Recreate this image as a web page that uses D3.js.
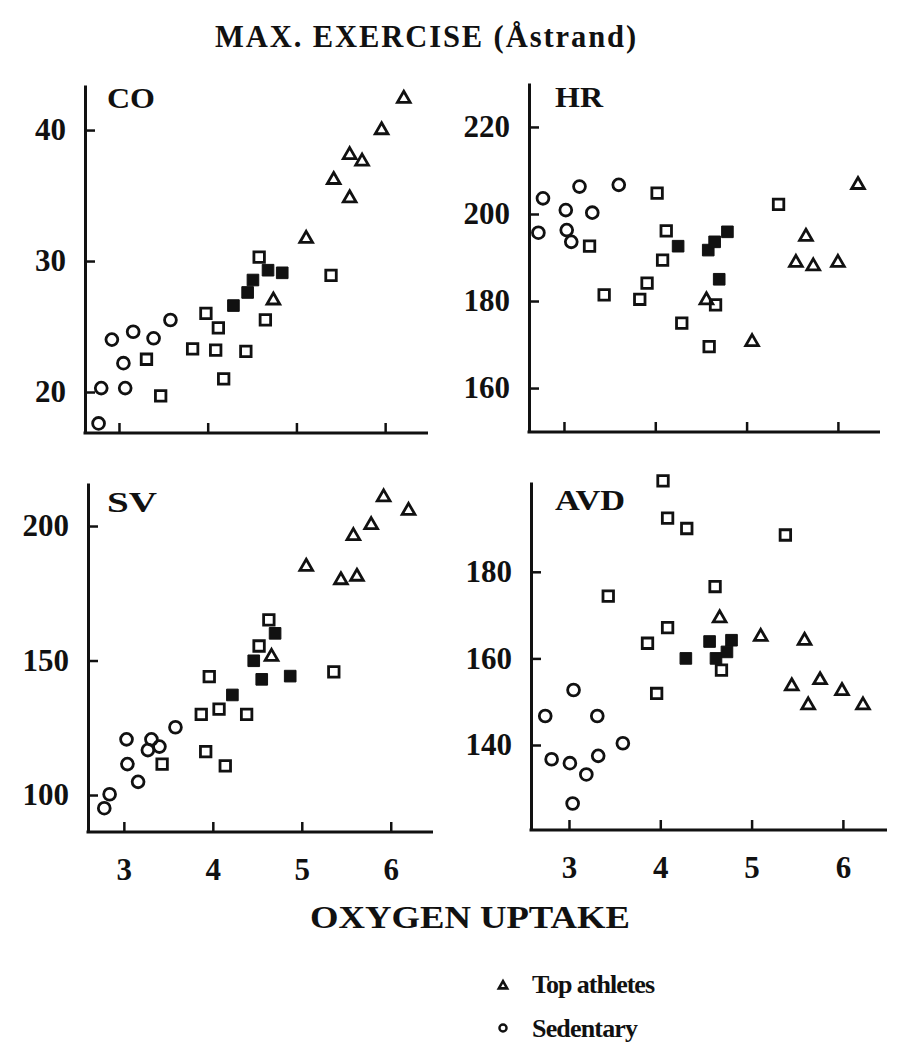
<!DOCTYPE html>
<html>
<head>
<meta charset="utf-8">
<script src="https://cdn.jsdelivr.net/npm/d3@7"></script>
<style>
  body { margin: 0; background: #fff; }
  svg { display: block; }
  text { font-family: "Liberation Serif", "DejaVu Serif", serif; font-weight: bold; fill: #111; }
  .axis path, .axis line { stroke: #111; }
  .axis text { font-size: 31px; font-family: "Liberation Serif", serif; font-weight: bold; fill: #111; }
</style>
</head>
<body>
<svg width="899" height="1047"></svg>
<script>
// x = oxygen uptake, y = panel variable
var xTicks = [3, 4, 5, 6];
var coTicks = [20, 30, 40],
    hrTicks = [160, 180, 200, 220],
    svTicks = [100, 150, 200],
    avdTicks = [140, 160, 180];

// CO
var coSedentary = [[2.77,17.6],[2.80,20.3],[2.92,24.0],[3.05,22.2],[3.07,20.3],[3.16,24.6],[3.39,24.1],[3.58,25.5]];
var coOpen = [[3.31,22.5],[3.47,19.7],[3.83,23.3],[3.98,26.0],[4.09,23.2],[4.12,24.9],[4.18,21.0],[4.43,23.1],[4.58,30.3],[4.65,25.5],[5.39,28.9]];
var coFilled = [[4.29,26.6],[4.45,27.6],[4.51,28.55],[4.68,29.3],[4.84,29.1]];
var coAthletes = [[4.74,27.0],[5.11,31.7],[5.42,36.2],[5.60,34.8],[5.60,38.1],[5.74,37.6],[5.96,40.0],[6.21,42.4]];

// HR
var hrSedentary = [[2.72,195.7],[2.77,203.6],[3.02,200.9],[3.03,196.3],[3.08,193.6],[3.17,206.3],[3.31,200.3],[3.60,206.7]];
var hrOpen = [[3.28,192.6],[3.44,181.4],[3.83,180.4],[3.91,184.1],[4.02,204.8],[4.08,189.4],[4.12,196.1],[4.29,174.9],[4.59,169.5],[4.66,179.1],[5.35,202.2]];
var hrFilled = [[4.25,192.6],[4.58,191.7],[4.65,193.6],[4.70,185.0],[4.79,195.9]];
var hrAthletes = [[4.56,180.2],[5.06,170.6],[5.54,188.8],[5.65,194.8],[5.73,188.0],[6.00,188.8],[6.22,206.7]];

// SV
var svSedentary = [[2.78,95.1],[2.84,100.3],[3.03,120.7],[3.04,111.5],[3.16,104.9],[3.27,116.7],[3.31,120.7],[3.40,118.0],[3.58,125.2]];
var svOpen = [[3.43,111.5],[3.87,130.0],[3.96,144.0],[3.92,116.1],[4.07,131.9],[4.14,110.8],[4.38,130.0],[4.52,155.4],[4.63,165.1],[5.36,145.8]];
var svFilled = [[4.22,137.2],[4.46,149.9],[4.55,143.0],[4.70,160.1],[4.87,144.2]];
var svAthletes = [[4.66,151.4],[5.05,184.9],[5.44,179.9],[5.62,181.2],[5.58,196.3],[5.78,200.4],[5.92,210.7],[6.20,205.7]];

// AVD
var avdSedentary = [[2.74,146.7],[2.81,136.7],[3.01,135.8],[3.04,126.5],[3.05,152.7],[3.19,133.2],[3.31,146.7],[3.32,137.5],[3.59,140.4]];
var avdOpen = [[3.43,174.4],[3.86,163.5],[3.96,151.9],[4.03,201.0],[4.08,167.1],[4.08,192.4],[4.29,190.0],[4.60,176.6],[4.67,157.3],[5.37,188.5]];
var avdFilled = [[4.28,160.0],[4.54,163.9],[4.61,160.0],[4.73,161.5],[4.78,164.2]];
var avdAthletes = [[4.65,169.3],[5.10,165.0],[5.44,153.6],[5.58,164.1],[5.62,149.2],[5.75,155.0],[5.99,152.5],[6.22,149.2]];

var legendLabels = ["Top athletes", "Sedentary"];

var svg = d3.select("svg");

var panels = [
  {label: "CO", ticks: coTicks, x: [2.617, 6.483], y: [16.87, 43.44],
   left: 85, right: 428, top: 85, bottom: 433, lx: 107, ly: 108, lw: 48, xLabels: false,
   groups: [coSedentary, coOpen, coFilled, coAthletes]},
  {label: "HR", ticks: hrTicks, x: [2.617, 6.461], y: [149.9, 230.1],
   left: 529, right: 880, top: 83, bottom: 432, lx: 555, ly: 107, lw: 48, xLabels: false,
   groups: [hrSedentary, hrOpen, hrFilled, hrAthletes]},
  {label: "SV", ticks: svTicks, x: [2.597, 6.475], y: [86.25, 215.99],
   left: 88, right: 433, top: 483, bottom: 832, lx: 107, ly: 512, lw: 50, xLabels: true,
   groups: [svSedentary, svOpen, svFilled, svAthletes]},
  {label: "AVD", ticks: avdTicks, x: [2.584, 6.483], y: [120.37, 200.74],
   left: 531, right: 887, top: 482, bottom: 830, lx: 555, ly: 510, lw: 70, xLabels: true,
   groups: [avdSedentary, avdOpen, avdFilled, avdAthletes]}
];

// marker styles: circle, open square, filled square, open triangle
var markers = [
  {type: d3.symbolCircle, size: 110, fill: "none"},
  {type: d3.symbolSquare, size: 110, fill: "none"},
  {type: d3.symbolSquare, size: 135, fill: "#111"},
  {type: d3.symbolTriangle, size: 70, fill: "none"}
];

panels.forEach(function(p) {
  var x = d3.scaleLinear().domain(p.x).range([p.left, p.right]);
  var y = d3.scaleLinear().domain(p.y).range([p.bottom, p.top]);
  var g = svg.append("g");

  var xAxis = d3.axisBottom(x).tickValues(xTicks).tickSizeInner(-10).tickSizeOuter(0).tickPadding(26)
      .tickFormat(p.xLabels ? d3.format("d") : "");
  var yAxis = d3.axisLeft(y).tickValues(p.ticks).tickSizeInner(-10).tickSizeOuter(0).tickPadding(19);

  var gx = g.append("g").attr("class", "axis")
      .attr("transform", "translate(0," + p.bottom + ")")
      .call(xAxis);
  gx.select(".domain").attr("stroke-width", 3).attr("d", "M" + (p.left - 1.5) + ",0H" + p.right);
  gx.selectAll(".tick line").attr("stroke-width", 2.5);

  var gy = g.append("g").attr("class", "axis")
      .attr("transform", "translate(" + p.left + ",0)")
      .call(yAxis);
  gy.select(".domain").attr("stroke-width", 3);
  gy.selectAll(".tick line").attr("stroke-width", 2.5);

  g.append("text")
      .attr("x", p.lx).attr("y", p.ly)
      .attr("font-size", 30)
      .attr("textLength", p.lw).attr("lengthAdjust", "spacingAndGlyphs")
      .text(p.label);

  p.groups.forEach(function(data, i) {
    var m = markers[i];
    g.selectAll(null)
        .data(data)
      .enter().append("path")
        .attr("d", d3.symbol().type(m.type).size(m.size))
        .attr("transform", function(d) { return "translate(" + x(d[0]) + "," + y(d[1]) + ")"; })
        .attr("fill", m.fill)
        .attr("stroke", "#111")
        .attr("stroke-width", m.fill === "none" ? 2.8 : 1);
  });
});

// title
svg.append("text")
    .attr("x", 215).attr("y", 47)
    .attr("font-size", 32)
    .attr("letter-spacing", 2)
    .attr("textLength", 423).attr("lengthAdjust", "spacingAndGlyphs")
    .text("MAX. EXERCISE (Åstrand)");

// x axis title
svg.append("text")
    .attr("x", 310).attr("y", 928)
    .attr("font-size", 32)
    .attr("textLength", 320).attr("lengthAdjust", "spacingAndGlyphs")
    .text("OXYGEN UPTAKE");

// legend
var legend = svg.append("g");
legend.append("path")
    .attr("d", d3.symbol().type(d3.symbolTriangle).size(30))
    .attr("transform", "translate(503,986)")
    .attr("fill", "none").attr("stroke", "#111").attr("stroke-width", 2.6);
legend.append("path")
    .attr("d", d3.symbol().type(d3.symbolCircle).size(40))
    .attr("transform", "translate(503,1028)")
    .attr("fill", "none").attr("stroke", "#111").attr("stroke-width", 2.4);
legend.append("text")
    .attr("x", 532).attr("y", 993)
    .attr("font-size", 26)
    .attr("textLength", 123).attr("lengthAdjust", "spacing")
    .text(legendLabels[0]);
legend.append("text")
    .attr("x", 532).attr("y", 1037)
    .attr("font-size", 26)
    .attr("textLength", 106).attr("lengthAdjust", "spacing")
    .text(legendLabels[1]);
</script>
</body>
</html>
